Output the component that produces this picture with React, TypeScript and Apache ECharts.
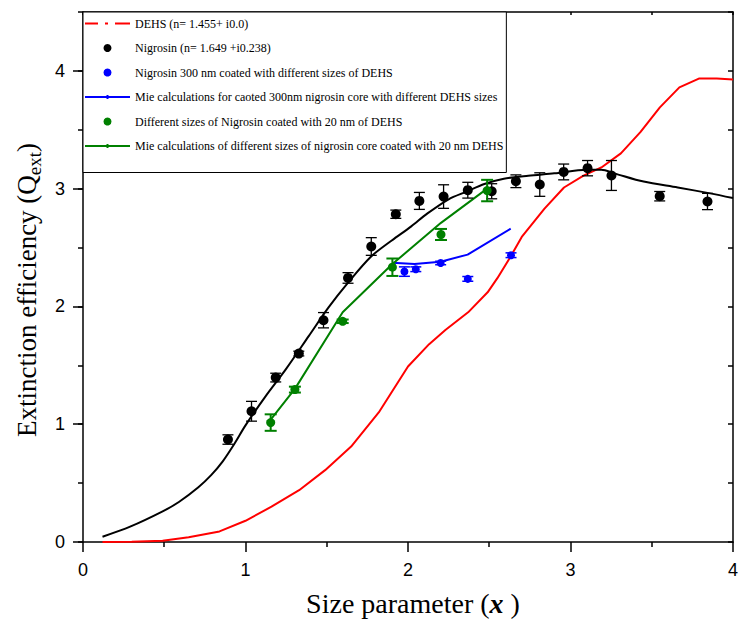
import React, { useEffect, useRef } from 'react';
import * as echarts from 'echarts';

// ---------- data ----------
const xTickValues = [0, 1, 2, 3, 4];
const yTickValues = [0, 1, 2, 3, 4];

const dehsName = 'DEHS (n= 1.455+ i0.0)';
const nigrosinName = 'Nigrosin (n= 1.649 +i0.238)';
const coated300Name = 'Nigrosin 300 nm coated with different sizes of DEHS';
const coated300MieName = 'Mie calculations for caoted 300nm nigrosin core with different DEHS sizes';
const core20Name = 'Different sizes of Nigrosin coated with 20 nm of DEHS';
const core20MieName = 'Mie calculations of different sizes of nigrosin core coated with 20 nm DEHS';

// DEHS Mie curve [x, Qext]
const dehsMie: number[][] = [
  [0.12, 0], [0.3, 0.002], [0.49, 0.01], [0.65, 0.04], [0.84, 0.09], [1.0, 0.18],
  [1.16, 0.3], [1.33, 0.44], [1.49, 0.61], [1.65, 0.81], [1.82, 1.1], [2.0, 1.49],
  [2.13, 1.68], [2.23, 1.8], [2.37, 1.95], [2.49, 2.12], [2.55, 2.24], [2.63, 2.42],
  [2.7, 2.59], [2.84, 2.83], [2.96, 3.01], [3.08, 3.11], [3.19, 3.18], [3.31, 3.3],
  [3.43, 3.48], [3.55, 3.69], [3.67, 3.86], [3.79, 3.935], [3.9, 3.935], [4.0, 3.927],
];

// Nigrosin Mie curve [x, Qext]
const nigrosinMie: number[][] = [
  [0.12, 0.045], [0.29, 0.13], [0.49, 0.26], [0.59, 0.34], [0.71, 0.465], [0.79, 0.57],
  [0.86, 0.685], [0.93, 0.83], [1.0, 0.99], [1.12, 1.23], [1.25, 1.47], [1.39, 1.75],
  [1.51, 1.99], [1.63, 2.2], [1.77, 2.42], [1.9, 2.56], [2.02, 2.68], [2.12, 2.79],
  [2.25, 2.91], [2.36, 2.975], [2.47, 3.04], [2.59, 3.085], [2.74, 3.11], [2.9, 3.13],
  [3.1, 3.16], [3.19, 3.16], [3.27, 3.13], [3.45, 3.06], [3.66, 3.01], [3.86, 2.96],
  [4.0, 2.92],
];

// Nigrosin measurements [x, Qext, error]
const nigrosinPts: number[][] = [
  [0.892, 0.87, 0.04], [1.037, 1.11, 0.084], [1.186, 1.396, 0.037], [1.328, 1.6, 0.02],
  [1.48, 1.883, 0.065], [1.631, 2.242, 0.045], [1.774, 2.509, 0.075], [1.925, 2.783, 0.035],
  [2.07, 2.896, 0.072], [2.219, 2.933, 0.1], [2.368, 2.987, 0.067], [2.515, 2.978, 0.064],
  [2.664, 3.063, 0.054], [2.811, 3.035, 0.1], [2.958, 3.142, 0.067], [3.105, 3.174, 0.065],
  [3.252, 3.112, 0.127], [3.549, 2.936, 0.04], [3.843, 2.891, 0.069],
];

// 300 nm nigrosin coated with DEHS [x, Qext, error]
const coated300Pts: number[][] = [
  [1.978, 2.296, 0.04], [2.048, 2.316, 0.02], [2.201, 2.369, 0.015], [2.368, 2.234, 0.02],
  [2.634, 2.435, 0.02],
];
const coated300Mie: number[][] = [
  [1.904, 2.37], [2.04, 2.36], [2.2, 2.38], [2.367, 2.44], [2.632, 2.66],
];

// nigrosin cores coated with 20 nm DEHS [x, Qext, error]
const core20Pts: number[][] = [
  [1.155, 1.014, 0.07], [1.304, 1.294, 0.025], [1.598, 1.874, 0.015], [1.904, 2.333, 0.074],
  [2.203, 2.611, 0.047], [2.487, 2.984, 0.091],
];
const core20Mie: number[][] = [
  [1.155, 1.04], [1.304, 1.3], [1.598, 1.95], [1.904, 2.36], [2.203, 2.71], [2.487, 3.0],
];

// ---------- helpers ----------
function errorBar(color: string, lw: number, cap: number) {
  return (params: any, api: any) => {
    const x = api.value(0);
    const y = api.value(1);
    const e = api.value(2);
    const hi = api.coord([x, y + e]);
    const lo = api.coord([x, y - e]);
    const h = cap / 2;
    const style = { stroke: color, lineWidth: lw, fill: 'none' };
    return {
      type: 'group',
      children: [
        { type: 'line', shape: { x1: hi[0], y1: hi[1], x2: lo[0], y2: lo[1] }, style },
        { type: 'line', shape: { x1: hi[0] - h, y1: hi[1], x2: hi[0] + h, y2: hi[1] }, style },
        { type: 'line', shape: { x1: lo[0] - h, y1: lo[1], x2: lo[0] + h, y2: lo[1] }, style },
      ],
    };
  };
}

const BLACK = '#000000';
const RED = '#ff0000';
const BLUE = '#0000ff';
const GREEN = '#008000';

const axisLineStyle = { color: BLACK, width: 1.5 };

// legend icon shapes
const dashDotIcon = 'path://M0,0h13v2h-13zM20,0h3v2h-3zM30,0h15v2h-15z';
const lineMarkIcon = 'path://M0,1h45v2h-45zM21.5,0h2v4h-2z';

function buildOption(): any {
  return {
    animation: false,
    backgroundColor: '#ffffff',
    grid: { left: 83, right: 4, top: 12, bottom: 88, containLabel: false },
    legend: {
      orient: 'vertical',
      left: 83,
      top: 12,
      z: 20,
      padding: [2, 3, 17, 2],
      itemGap: 5.5,
      itemWidth: 45,
      itemHeight: 8,
      backgroundColor: '#ffffff',
      borderColor: BLACK,
      borderWidth: 1,
      borderRadius: 0,
      selectedMode: false,
      textStyle: {
        fontFamily: 'Liberation Serif', fontSize: 12, color: BLACK, lineHeight: 14,
        padding: [5, 0, 0, 0],
      },
      data: [
        { name: dehsName, icon: dashDotIcon, itemStyle: { color: RED, opacity: 1 } },
        { name: nigrosinName, icon: 'circle', itemStyle: { color: BLACK, opacity: 1 } },
        { name: coated300Name, icon: 'circle', itemStyle: { color: BLUE, opacity: 1 } },
        { name: coated300MieName, icon: lineMarkIcon, itemStyle: { color: BLUE, opacity: 1 } },
        { name: core20Name, icon: 'circle', itemStyle: { color: GREEN, opacity: 1 } },
        { name: core20MieName, icon: lineMarkIcon, itemStyle: { color: GREEN, opacity: 1 } },
      ],
    },
    xAxis: [
      {
        type: 'value', min: 0, max: 4, interval: 1, position: 'bottom',
        axisLine: { show: true, onZero: false, lineStyle: axisLineStyle },
        axisTick: { show: true, inside: false, length: 10, lineStyle: axisLineStyle },
        minorTick: { show: true, splitNumber: 2, length: 5, lineStyle: axisLineStyle },
        axisLabel: {
          color: BLACK, fontSize: 18, fontFamily: 'Liberation Sans', margin: 19,
          customValues: xTickValues,
        },
        splitLine: { show: false },
        name: '{a|Size parameter (}{b|x}{a| )}',
        nameLocation: 'middle',
        nameGap: 47,
        nameTextStyle: {
          padding: [0, 0, 0, 10],
          rich: {
            a: { fontFamily: 'Liberation Serif', fontSize: 28, color: BLACK },
            b: { fontFamily: 'Liberation Serif', fontSize: 28, color: BLACK, fontWeight: 'bold', fontStyle: 'italic' },
          },
        },
      },
      {
        type: 'value', min: 0, max: 4, interval: 0.5, position: 'top',
        axisLine: { show: true, onZero: false, lineStyle: axisLineStyle },
        axisTick: { show: true, inside: true, length: 3, lineStyle: axisLineStyle },
        axisLabel: { show: false },
        splitLine: { show: false },
      },
    ],
    yAxis: [
      {
        type: 'value', min: 0, max: 4.5, interval: 0.5, position: 'left',
        axisLine: { show: true, onZero: false, lineStyle: axisLineStyle },
        axisTick: { show: true, inside: false, length: 10, lineStyle: axisLineStyle, customValues: yTickValues },
        axisLabel: {
          color: BLACK, fontSize: 18, fontFamily: 'Liberation Sans', margin: 18,
          customValues: yTickValues,
        },
        splitLine: { show: false },
        name: '{a|Extinction efficiency (Q}{b|ext}{a|)}',
        nameLocation: 'middle',
        nameGap: 35,
        nameTextStyle: {
          padding: [0, 26, 0, 0],
          rich: {
            a: { fontFamily: 'Liberation Serif', fontSize: 27, color: BLACK, lineHeight: 31, verticalAlign: 'top' },
            b: { fontFamily: 'Liberation Serif', fontSize: 19, color: BLACK, lineHeight: 20, padding: [12, 0, 0, 0], verticalAlign: 'top' },
          },
        },
      },
      {
        type: 'value', min: 0, max: 4.5, interval: 0.5, position: 'left',
        axisLine: { show: false, onZero: false },
        axisTick: { show: true, inside: false, length: 5, lineStyle: axisLineStyle },
        axisLabel: { show: false },
        splitLine: { show: false },
      },
      {
        type: 'value', min: 0, max: 4.5, interval: 0.5, position: 'right',
        axisLine: { show: true, onZero: false, lineStyle: axisLineStyle },
        axisTick: { show: true, inside: true, length: 5, lineStyle: axisLineStyle },
        axisLabel: { show: false },
        splitLine: { show: false },
      },
    ],
    series: [
      {
        name: dehsName, type: 'line', data: dehsMie, symbol: 'none', showSymbol: false,
        lineStyle: { color: RED, width: 2 }, itemStyle: { color: RED }, z: 2,
      },
      {
        name: 'Nigrosin Mie', type: 'line', data: nigrosinMie, symbol: 'none', showSymbol: false,
        smooth: 0.3, lineStyle: { color: BLACK, width: 2 }, itemStyle: { color: BLACK }, z: 2,
      },
      {
        name: coated300MieName, type: 'line', data: coated300Mie, symbol: 'none', showSymbol: false,
        lineStyle: { color: BLUE, width: 2 }, itemStyle: { color: BLUE }, z: 2,
      },
      {
        name: core20MieName, type: 'line', data: core20Mie, symbol: 'none', showSymbol: false,
        lineStyle: { color: GREEN, width: 2 }, itemStyle: { color: GREEN }, z: 2,
      },
      {
        name: 'nigrosinErr', type: 'custom', data: nigrosinPts, encode: { x: 0, y: 1 },
        renderItem: errorBar(BLACK, 1.3, 11), z: 3, silent: true,
      },
      {
        name: 'coated300Err', type: 'custom', data: coated300Pts, encode: { x: 0, y: 1 },
        renderItem: errorBar(BLUE, 1.5, 11), z: 3, silent: true,
      },
      {
        name: 'core20Err', type: 'custom', data: core20Pts, encode: { x: 0, y: 1 },
        renderItem: errorBar(GREEN, 2, 12), z: 3, silent: true,
      },
      {
        name: nigrosinName, type: 'scatter', data: nigrosinPts.map((p) => [p[0], p[1]]),
        symbol: 'circle', symbolSize: 10, itemStyle: { color: BLACK, opacity: 1 }, z: 4,
      },
      {
        name: coated300Name, type: 'scatter', data: coated300Pts.map((p) => [p[0], p[1]]),
        symbol: 'circle', symbolSize: 8, itemStyle: { color: BLUE, opacity: 1 }, z: 4,
      },
      {
        name: core20Name, type: 'scatter', data: core20Pts.map((p) => [p[0], p[1]]),
        symbol: 'circle', symbolSize: 9, itemStyle: { color: GREEN, opacity: 1 }, z: 4,
      },
    ],
  };
}

export default function App() {
  const ref = useRef<HTMLDivElement>(null);
  useEffect(() => {
    if (!ref.current) return;
    const chart = echarts.init(ref.current, null, { renderer: 'svg' });
    chart.setOption(buildOption());
    return () => chart.dispose();
  }, []);
  return (
    <div
      ref={ref}
      style={{ position: 'absolute', left: 0, top: 0, width: 741, height: 630, background: '#fff' }}
    />
  );
}
